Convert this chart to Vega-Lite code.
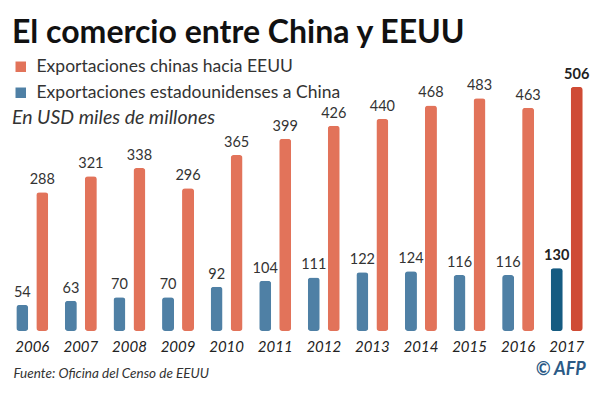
{
  "$schema": "https://vega.github.io/schema/vega-lite/v6.json",
  "width": 583,
  "height": 271,
  "autosize": {"type": "none"},
  "padding": {"left": 8, "top": 60, "right": 9, "bottom": 62},
  "background": "white",
  "config": {"view": {"stroke": null}, "font": "Lato"},
  "title": {"text": "El comercio entre China y EEUU", "anchor": "start", "frame": "group", "fontSize": 32, "fontWeight": "bold", "color": "#111111", "font": "Lato", "dx": 4, "offset": 8},
  "data": {"values": [
    {"year": "2006", "serie": "Exportaciones estadounidenses a China", "value": 54},
    {"year": "2007", "serie": "Exportaciones estadounidenses a China", "value": 63},
    {"year": "2008", "serie": "Exportaciones estadounidenses a China", "value": 70},
    {"year": "2009", "serie": "Exportaciones estadounidenses a China", "value": 70},
    {"year": "2010", "serie": "Exportaciones estadounidenses a China", "value": 92},
    {"year": "2011", "serie": "Exportaciones estadounidenses a China", "value": 104},
    {"year": "2012", "serie": "Exportaciones estadounidenses a China", "value": 111},
    {"year": "2013", "serie": "Exportaciones estadounidenses a China", "value": 122},
    {"year": "2014", "serie": "Exportaciones estadounidenses a China", "value": 124},
    {"year": "2015", "serie": "Exportaciones estadounidenses a China", "value": 116},
    {"year": "2016", "serie": "Exportaciones estadounidenses a China", "value": 116},
    {"year": "2017", "serie": "Exportaciones estadounidenses a China", "value": 130},
    {"year": "2006", "serie": "Exportaciones chinas hacia EEUU", "value": 288},
    {"year": "2007", "serie": "Exportaciones chinas hacia EEUU", "value": 321},
    {"year": "2008", "serie": "Exportaciones chinas hacia EEUU", "value": 338},
    {"year": "2009", "serie": "Exportaciones chinas hacia EEUU", "value": 296},
    {"year": "2010", "serie": "Exportaciones chinas hacia EEUU", "value": 365},
    {"year": "2011", "serie": "Exportaciones chinas hacia EEUU", "value": 399},
    {"year": "2012", "serie": "Exportaciones chinas hacia EEUU", "value": 426},
    {"year": "2013", "serie": "Exportaciones chinas hacia EEUU", "value": 440},
    {"year": "2014", "serie": "Exportaciones chinas hacia EEUU", "value": 468},
    {"year": "2015", "serie": "Exportaciones chinas hacia EEUU", "value": 483},
    {"year": "2016", "serie": "Exportaciones chinas hacia EEUU", "value": 463},
    {"year": "2017", "serie": "Exportaciones chinas hacia EEUU", "value": 506}
  ]},
  "layer": [
    {
      "mark": {"type": "bar", "width": 12, "cornerRadius": 3},
      "encoding": {
        "x": {"field": "year", "type": "nominal", "scale": {"paddingInner": 0, "paddingOuter": 0},
          "axis": {"title": "Fuente: Oficina del Censo de EEUU", "labelAngle": 0, "ticks": false, "domain": false,
            "labelFontSize": 15, "labelFontStyle": "italic", "labelColor": "#222222", "labelPadding": 8, "labelFont": "Lato",
            "titleFontSize": 13.5, "titleFontStyle": "italic", "titleFontWeight": "normal", "titleColor": "#333333", "titleFont": "Lato",
            "titleAnchor": "start", "titleAlign": "left", "titleX": 5, "titleY": 46, "titleBaseline": "alphabetic"}},
        "xOffset": {"field": "serie", "type": "nominal", "scale": {"domain": ["Exportaciones estadounidenses a China", "Exportaciones chinas hacia EEUU"], "paddingOuter": 0.215, "paddingInner": 0}},
        "y": {"field": "value", "type": "quantitative", "scale": {"domain": [0, 562.2], "nice": false, "zero": true}, "axis": null},
        "color": {"field": "serie", "type": "nominal",
          "scale": {"domain": ["Exportaciones chinas hacia EEUU", "Exportaciones estadounidenses a China"], "range": ["#e2735a", "#4f80a5"]},
          "legend": {"orient": "none", "legendX": 4, "legendY": -2, "title": "En USD miles de millones", "titleOrient": "bottom",
            "titleFontStyle": "italic", "titleFontWeight": "normal", "titleFontSize": 19.5, "titleColor": "#333333", "titleFont": "Lato", "titlePadding": 8, "titleLimit": 400,
            "labelFontSize": 17.5, "labelColor": "#333333", "labelFont": "Lato", "labelLimit": 500, "symbolType": "square", "symbolSize": 110, "symbolStrokeWidth": 0,
            "rowPadding": 7, "labelOffset": 7}}
      }
    },
    {
      "transform": [{"filter": "datum.year == '2017'"}],
      "mark": {"type": "bar", "width": 12, "cornerRadius": 3},
      "encoding": {
        "x": {"field": "year", "type": "nominal"},
        "xOffset": {"field": "serie", "type": "nominal"},
        "y": {"field": "value", "type": "quantitative"},
        "color": {"field": "serie", "type": "nominal",
          "scale": {"domain": ["Exportaciones chinas hacia EEUU", "Exportaciones estadounidenses a China"], "range": ["#cf4b35", "#155b81"]},
          "legend": null}
      }
    },
    {
      "transform": [{"filter": "datum.year != '2017'"}],
      "mark": {"type": "text", "baseline": "bottom", "dy": -5, "fontSize": 14.5, "color": "#333333", "font": "Lato"},
      "encoding": {
        "x": {"field": "year", "type": "nominal"},
        "xOffset": {"field": "serie", "type": "nominal"},
        "y": {"field": "value", "type": "quantitative"},
        "text": {"field": "value", "type": "quantitative"}
      }
    },
    {
      "transform": [{"filter": "datum.year == '2017'"}],
      "mark": {"type": "text", "baseline": "bottom", "dy": -5, "fontSize": 14.5, "fontWeight": "bold", "color": "#222222", "font": "Lato"},
      "encoding": {
        "x": {"field": "year", "type": "nominal"},
        "xOffset": {"field": "serie", "type": "nominal"},
        "y": {"field": "value", "type": "quantitative"},
        "text": {"field": "value", "type": "quantitative"}
      }
    },
    {
      "data": {"values": [{"t": "© AFP"}]},
      "mark": {"type": "text", "align": "right", "baseline": "alphabetic", "dx": 19, "dy": 44, "fontSize": 18, "fontWeight": "bold", "fontStyle": "italic", "color": "#2b5a86", "font": "Lato"},
      "encoding": {
        "x": {"datum": "2017", "type": "nominal", "bandPosition": 0.5},
        "y": {"datum": 0, "type": "quantitative"},
        "text": {"field": "t"}
      }
    }
  ],
  "resolve": {"scale": {"color": "independent"}}
}
